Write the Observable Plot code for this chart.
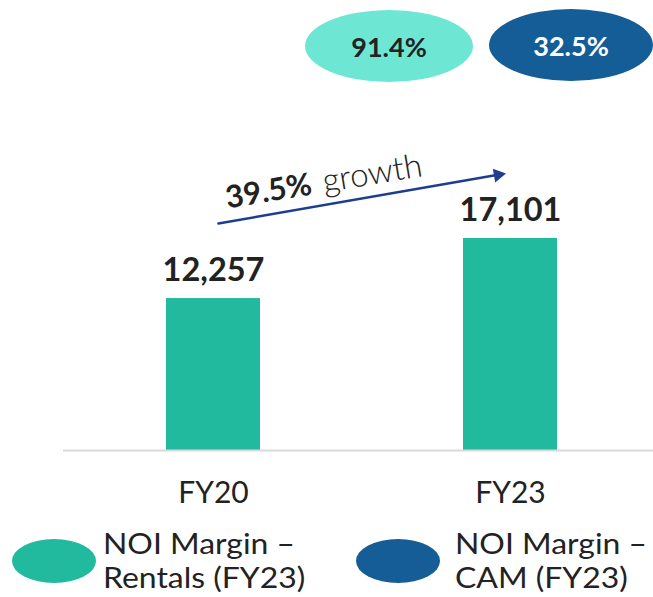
<!DOCTYPE html>
<html><head><meta charset="utf-8">
<script src="https://cdn.jsdelivr.net/npm/d3@7"></script>
<script src="https://cdn.jsdelivr.net/npm/@observablehq/plot@0.6"></script>
<style>
html,body{margin:0;padding:0;background:#fff;}
#wrap{position:relative;width:653px;height:597px;overflow:hidden;font-family:Lato,"Open Sans",sans-serif;color:#222;}
.ell{position:absolute;border-radius:50%;display:flex;align-items:center;justify-content:center;font-weight:700;font-size:27px;}
.leg{position:absolute;font-size:28px;line-height:33px;height:33px;color:#222;white-space:nowrap;transform:scaleX(1.14);transform-origin:0 50%;}
</style></head>
<body><div id="wrap"></div>
<script>
const years = ["FY20", "FY23"];
const noi = [12257, 17101];
const growthLabel = "39.5%";
const growthWord = "growth";
const badgeLabels = ["91.4%", "32.5%"];
const legendLabels = [["NOI Margin –", "Rentals (FY23)"], ["NOI Margin –", "CAM (FY23)"]];
const badgeColors = ["#6DE6D3", "#145D97"];
const legendColors = ["#21BA9E", "#145D97"];

const data = years.map((y, i) => ({year: y, value: noi[i]}));
const arrowData = [{x1: "FY20", y1: 18240, x2: "FY23", y2: 22409}];
const font = "Lato, 'Open Sans', sans-serif";

const chart = Plot.plot({
  width: 653, height: 520,
  marginTop: 0, marginBottom: 70, marginLeft: 63, marginRight: 0,
  style: {fontFamily: font, color: "#222", background: "#fff"},
  x: {type: "band", domain: years, range: [17, 706], paddingInner: 0.684, paddingOuter: 0.5, label: null},
  y: {domain: [0, 36300], axis: null},
  marks: [
    Plot.barY(data, {x: "year", y: "value", fill: "#21BA9E"}),
    Plot.ruleY([0], {stroke: "#d9d9d9", strokeWidth: 2}),
    Plot.axisX({tickSize: 0, tickPadding: 31, fontSize: 30, label: null, fill: "#222"}),
    Plot.text(data, {x: "year", y: "value", text: d => d3.format(",")(d.value), dy: -18, lineAnchor: "bottom", fontSize: 32.5, fontWeight: 700, fill: "#222"}),
    Plot.arrow(arrowData, {x1: "x1", y1: "y1", x2: "x2", y2: "y2", stroke: "#1F3D8F", strokeWidth: 2.5, headLength: 0, insetStart: 5, insetEnd: 14}),
    Plot.dot([{x: "FY23", y: 22231}], {x: "x", y: "y", dx: -12.5, symbol: "triangle", r: 5.2, fill: "#1F3D8F", stroke: null, rotate: 80.15}),
    Plot.text([{x: "FY20", y: 19521}], {x: "x", y: "y", dx: 14, text: () => growthLabel, textAnchor: "start", lineAnchor: "bottom", rotate: -9.5, fontSize: 31, fontWeight: 700, fill: "#222"}),
    Plot.text([{x: "FY20", y: 20811}], {x: "x", y: "y", dx: 111, text: () => growthWord, textAnchor: "start", lineAnchor: "bottom", rotate: -9.5, fontSize: 33, fontWeight: 300, fill: "#222"})
  ]
});
const wrap = document.getElementById("wrap");
chart.style.position = "absolute"; chart.style.left = "0"; chart.style.top = "0";
wrap.appendChild(chart);

const badgePos = [{l: 305, t: 10, w: 168, h: 72, c: "#222"}, {l: 489, t: 9, w: 164, h: 72, c: "#fff"}];
badgeLabels.forEach((b, i) => {
  const d = document.createElement("div");
  d.className = "ell";
  const p = badgePos[i];
  Object.assign(d.style, {left: p.l + "px", top: p.t + "px", width: p.w + "px", height: p.h + "px", background: badgeColors[i], color: p.c});
  d.textContent = b;
  wrap.appendChild(d);
});

const legPos = [{el: 12, tx: 103}, {el: 356, tx: 455}];
legendLabels.forEach((lab, i) => {
  const e = document.createElement("div");
  e.className = "ell";
  Object.assign(e.style, {left: legPos[i].el + "px", top: "539px", width: "84px", height: "44px", background: legendColors[i]});
  wrap.appendChild(e);
  lab.forEach((line, j) => {
    const t = document.createElement("div");
    t.className = "leg";
    Object.assign(t.style, {left: legPos[i].tx + "px", top: (527 + j * 34) + "px"});
    t.textContent = line;
    wrap.appendChild(t);
  });
});
</script></body></html>
